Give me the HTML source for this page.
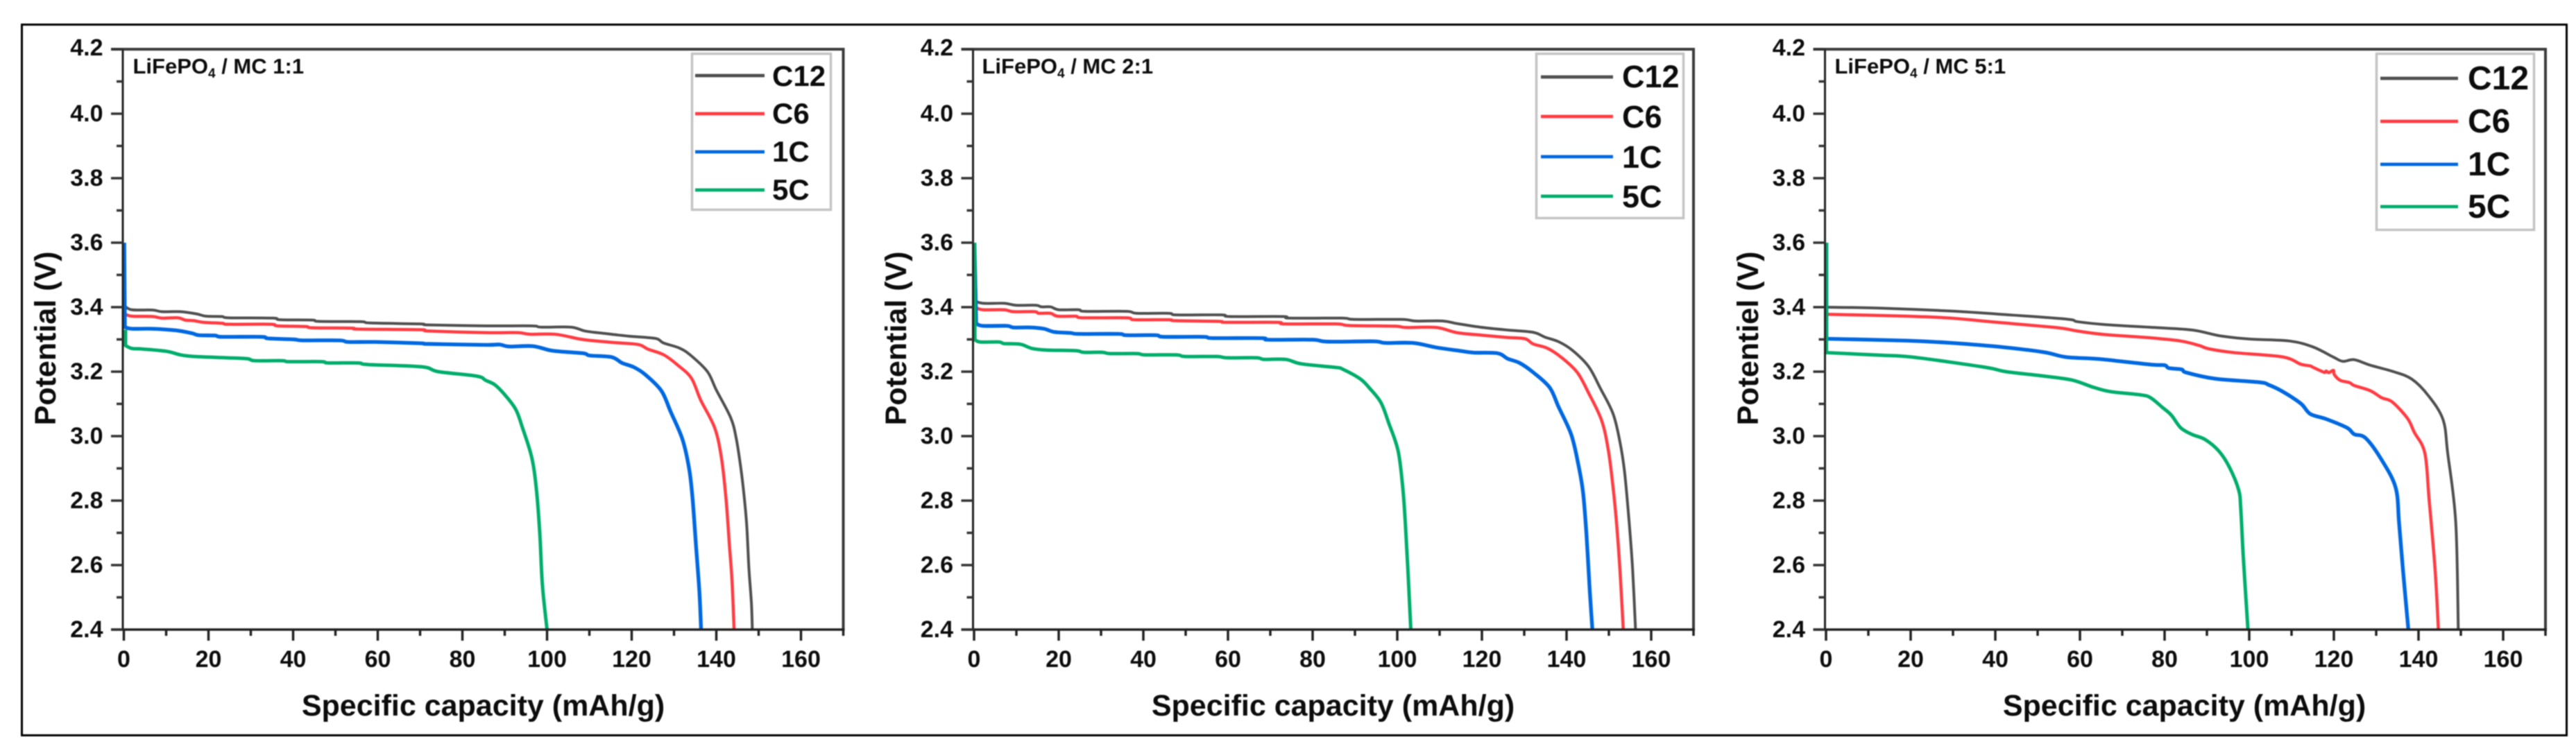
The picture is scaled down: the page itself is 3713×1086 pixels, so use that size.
<!DOCTYPE html>
<html lang="en">
<head>
<meta charset="utf-8">
<title>LiFePO4 / MC discharge curves</title>
<style>
html,body{margin:0;padding:0;background:#fff;width:3713px;height:1086px;overflow:hidden}
svg{display:block;filter:blur(0.9px)}
text{font-family:"Liberation Sans",Arial,sans-serif;font-weight:700;fill:#0c0c0c}
.legend-box{fill:#fff;stroke:#c4c4c4;stroke-width:3.5}
.tick-label{font-size:34px}
.axis-title{font-size:43px}
.note{font-size:31px}
.c12{stroke:#4f4f4f}.c6{stroke:#ff3b42}.c1{stroke:#0068e0}.c5{stroke:#00ad6b}
.leg-line{stroke-width:4.8;fill:none}
</style>
</head>
<body>
<svg id="figure" xmlns="http://www.w3.org/2000/svg" width="3713" height="1086" viewBox="0 0 3713 1086">
  <rect x="31.5" y="35.5" width="3668" height="1025" fill="#fff" stroke="#000" stroke-width="3"/>

  <g id="panel-1">
    <text class="axis-title" transform="translate(80,488) rotate(-90)" text-anchor="middle">Potential (V)</text>
    <text class="axis-title" x="696.5" y="1032" text-anchor="middle">Specific capacity (mAh/g)</text>
  </g>
  <g id="panel-2">
    <text class="axis-title" transform="translate(1306,488) rotate(-90)" text-anchor="middle">Potential (V)</text>
    <text class="axis-title" x="1921.5" y="1032" text-anchor="middle">Specific capacity (mAh/g)</text>
  </g>
  <g id="panel-3">
    <text class="axis-title" transform="translate(2534,488) rotate(-90)" text-anchor="middle">Potentiel (V)</text>
    <text class="axis-title" x="3148.5" y="1032" text-anchor="middle">Specific capacity (mAh/g)</text>
  </g>

  <g id="overlays">
    <text class="note" x="191.5" y="106">LiFePO<tspan font-size="19" dy="6">4</tspan><tspan dy="-6"> / MC 1:1</tspan></text>
    <text class="note" x="1415.5" y="106">LiFePO<tspan font-size="19" dy="6">4</tspan><tspan dy="-6"> / MC 2:1</tspan></text>
    <text class="note" x="2644.5" y="106">LiFePO<tspan font-size="19" dy="6">4</tspan><tspan dy="-6"> / MC 5:1</tspan></text>

    <g font-size="42">
      <rect class="legend-box" x="997.5" y="77.5" width="200" height="225"/>
      <line class="leg-line c12" x1="1002" x2="1102" y1="109" y2="109"/>
      <line class="leg-line c6" x1="1002" x2="1102" y1="164" y2="164"/>
      <line class="leg-line c1" x1="1002" x2="1102" y1="219" y2="219"/>
      <line class="leg-line c5" x1="1002" x2="1102" y1="274" y2="274"/>
      <text x="1113" y="124">C12</text>
      <text x="1113" y="178">C6</text>
      <text x="1113" y="233">1C</text>
      <text x="1113" y="288">5C</text>
    </g>
    <g font-size="45">
      <rect class="legend-box" x="2214.5" y="77.5" width="212" height="237"/>
      <line class="leg-line c12" x1="2221" x2="2325" y1="111" y2="111"/>
      <line class="leg-line c6" x1="2221" x2="2325" y1="168" y2="168"/>
      <line class="leg-line c1" x1="2221" x2="2325" y1="226" y2="226"/>
      <line class="leg-line c5" x1="2221" x2="2325" y1="283" y2="283"/>
      <text x="2338" y="126">C12</text>
      <text x="2338" y="184">C6</text>
      <text x="2338" y="242">1C</text>
      <text x="2338" y="299">5C</text>
    </g>
    <g font-size="48">
      <rect class="legend-box" x="3425.5" y="77.5" width="227" height="254"/>
      <line class="leg-line c12" x1="3431" x2="3543" y1="113" y2="113"/>
      <line class="leg-line c6" x1="3431" x2="3543" y1="175" y2="175"/>
      <line class="leg-line c1" x1="3431" x2="3543" y1="237" y2="237"/>
      <line class="leg-line c5" x1="3431" x2="3543" y1="298" y2="298"/>
      <text x="3557" y="129">C12</text>
      <text x="3557" y="191">C6</text>
      <text x="3557" y="253">1C</text>
      <text x="3557" y="314">5C</text>
    </g>
  </g>
</svg>

<script>
// Tick labels
const xTickLabels = ['0','20','40','60','80','100','120','140','160'];
const xMinorTicks = [10,30,50,70,90,110,130,150,170];
const yTickLabels = ['2.4','2.6','2.8','3.0','3.2','3.4','3.6','3.8','4.0','4.2'];
const yMinorTicks = [2.5,2.7,2.9,3.1,3.3,3.5,3.7,3.9,4.1];

// Panel 1 (MC 1:1)
const p1C12Cap = [0.1,0.25,1.9,6.8,9,13.4,17.2,19.4,23.2,24.8,35.2,36.9,44.5,46.1,56,58.2,70,72,85.5,96.4,98.6,105.7,109,113.9,119.4,125.6,127.5,131.3,134,137.9,140,143.4,144.7,145.8,146.6,147.2,147.7,148.3,148.5];
const p1C12Volt = [3.6,3.403,3.392,3.391,3.386,3.386,3.379,3.372,3.371,3.367,3.366,3.361,3.36,3.356,3.355,3.351,3.348,3.345,3.342,3.342,3.338,3.338,3.326,3.318,3.31,3.303,3.289,3.273,3.25,3.2,3.143,3.057,2.993,2.9,2.81,2.72,2.59,2.48,2.4];
const p1C6Cap = [0.1,0.25,1.9,6.8,9,12.8,14.5,16.6,18.8,23.2,24.8,34.7,36.3,42.9,44.5,53.8,55.4,70,72,85.5,93.1,95.9,101.9,107.4,110.1,116.1,121.6,123.8,127.6,130.9,134.1,136.3,139.6,141.2,142.3,143.1,143.7,144.2];
const p1C6Volt = [3.6,3.379,3.372,3.371,3.366,3.367,3.36,3.358,3.353,3.35,3.347,3.347,3.342,3.34,3.336,3.335,3.332,3.33,3.326,3.321,3.321,3.316,3.316,3.302,3.297,3.29,3.284,3.27,3.252,3.22,3.18,3.112,3.026,2.933,2.804,2.66,2.553,2.4];
const p1C1Cap = [0.1,0.25,1.9,6.8,12.3,16.1,17.7,21.6,23.2,32.5,34.1,40.1,42.3,51,53,59.3,70,72,85.5,88.8,91,96.7,101.3,108.5,110.1,115.3,117.7,120.5,123.2,127,129.2,132,133.6,134.4,135.2,136,136.4];
const p1C1Volt = [3.6,3.338,3.333,3.333,3.328,3.319,3.313,3.312,3.308,3.308,3.303,3.3,3.297,3.297,3.292,3.292,3.288,3.286,3.283,3.284,3.278,3.279,3.265,3.257,3.25,3.245,3.227,3.214,3.191,3.141,3.076,2.99,2.897,2.804,2.66,2.517,2.4];
const p1C5Cap = [0.4,0.4,1.9,4.6,10.1,13.4,16.6,24.3,29.2,30.9,37.4,39,46.7,48.3,55.4,57.6,70.4,74.3,83.4,85.5,87.7,89.9,92.6,94.2,96.4,97.5,98.3,98.9,100];
const p1C5Volt = [3.33,3.281,3.272,3.27,3.263,3.252,3.247,3.243,3.24,3.234,3.234,3.231,3.231,3.227,3.227,3.222,3.215,3.2,3.186,3.173,3.159,3.13,3.083,3.026,2.933,2.833,2.696,2.539,2.4];

// Panel 2 (MC 2:1)
const p2C12Cap = [0.1,0.2,2.1,7.1,9.9,14.6,15.9,18.1,20,24.7,26.2,36,38.5,46,47.9,58.5,60.4,73,74.5,86.8,89.9,101,104.3,110.8,114.1,119.6,126.1,132.1,134.9,138.1,141.4,145.2,148,151,152.6,153.7,154.8,155.6,156.3];
const p2C12Volt = [3.6,3.419,3.412,3.412,3.406,3.406,3.401,3.401,3.392,3.392,3.387,3.387,3.381,3.381,3.376,3.376,3.371,3.371,3.366,3.366,3.362,3.362,3.357,3.357,3.349,3.338,3.329,3.322,3.307,3.293,3.266,3.216,3.148,3.069,2.983,2.89,2.732,2.589,2.4];
const p2C6Cap = [0.1,0.5,2.1,7.1,9.3,14.3,15.3,18.1,19.7,24,25.6,36,37.9,46,47.6,57.9,59.5,71.7,73.3,85.5,88.7,99.3,102.1,109.2,114.1,120.1,126.1,130.2,132.1,135.4,138.7,142.5,145.2,148.3,149.9,151,151.8,152.6,153.4];
const p2C6Volt = [3.6,3.398,3.392,3.392,3.386,3.386,3.381,3.381,3.372,3.372,3.367,3.367,3.361,3.361,3.358,3.356,3.353,3.353,3.348,3.348,3.343,3.341,3.337,3.337,3.321,3.313,3.306,3.302,3.286,3.273,3.245,3.198,3.134,3.048,2.954,2.84,2.732,2.589,2.4];
const p2C1Cap = [0.1,0.5,2.1,7.7,9.3,13.4,16.5,19,22.8,24.7,34.1,36,42.9,44.8,54.2,56.4,68,69.5,79.9,83.6,94.4,97.2,103.7,109.2,114.6,118,123.7,126.1,128.9,132.1,136,138.1,141.1,142.8,143.9,144.7,145.5,146.1];
const p2C1Volt = [3.6,3.349,3.342,3.342,3.337,3.337,3.333,3.323,3.32,3.317,3.317,3.313,3.313,3.308,3.308,3.304,3.304,3.299,3.299,3.293,3.294,3.289,3.289,3.275,3.265,3.259,3.257,3.24,3.227,3.198,3.151,3.091,3.005,2.911,2.825,2.696,2.517,2.4];
const p2C5Cap = [0.1,0.2,1.5,5.9,7.1,10.9,13.7,17.1,24,25.9,30.3,32.2,38.5,40.4,47.9,49.8,57.3,59.8,66.7,68.6,73.6,77.4,85.5,87.2,91.2,93.3,96.1,98,100.2,101.3,101.9,102.5,103.2];
const p2C5Volt = [3.6,3.299,3.292,3.292,3.287,3.285,3.272,3.267,3.265,3.26,3.26,3.256,3.256,3.252,3.252,3.247,3.247,3.243,3.243,3.238,3.238,3.224,3.213,3.207,3.178,3.151,3.105,3.04,2.954,2.84,2.732,2.589,2.4];

// Panel 3 (MC 5:1)
const p3C12Cap = [0.1,0.1,12.7,29.6,41.2,56.8,59.4,65.9,77.5,86.6,93.1,100.2,109.5,115,119.9,122.1,124.8,128.6,134.1,138.4,142.3,145.8,146.9,148.8,149.4];
const p3C12Volt = [3.6,3.4,3.397,3.388,3.378,3.363,3.355,3.346,3.337,3.329,3.311,3.301,3.295,3.277,3.245,3.232,3.237,3.22,3.2,3.177,3.126,3.051,2.947,2.732,2.4];
const p3C6Cap = [0.1,0.1,19.2,29.6,38.7,54.2,59.4,65.9,76.5,83.8,88.2,90.4,96.4,107.8,112.2,114.4,115,117.7,118.2,118.8,119.9,120.1,121.5,123.7,124.8,128.6,131.3,133.8,137.4,139,141.5,142.5,143.9,144.7];
const p3C6Volt = [3.6,3.378,3.372,3.366,3.355,3.337,3.326,3.315,3.305,3.295,3.281,3.271,3.259,3.246,3.223,3.218,3.214,3.198,3.202,3.197,3.204,3.191,3.173,3.166,3.157,3.141,3.119,3.106,3.055,3.012,2.947,2.804,2.589,2.4];
const p3C1Cap = [0.1,0.1,19.2,29.6,42.5,51.6,56.8,64.6,76.7,80,81,84,85.2,92,102.4,104.6,107.8,112.2,114.4,118.2,123.1,124.8,127.5,131.3,134.6,135.4,136.3,137.6];
const p3C1Volt = [3.6,3.302,3.296,3.289,3.275,3.26,3.245,3.239,3.222,3.22,3.211,3.207,3.197,3.178,3.167,3.159,3.139,3.101,3.069,3.053,3.026,3.006,2.994,2.926,2.84,2.732,2.589,2.4];
const p3C5Cap = [0.1,0.1,12.7,20.5,37.4,42.5,51.6,58.1,63.3,67.2,74.3,76.7,79.4,81.6,83.8,86.5,89.5,92.8,95.3,97.5,98,98.6,99.7];
const p3C5Volt = [3.6,3.259,3.251,3.245,3.214,3.2,3.186,3.174,3.151,3.138,3.128,3.119,3.09,3.065,3.026,3.005,2.99,2.954,2.904,2.833,2.775,2.625,2.4];

const SVG_NS = 'http://www.w3.org/2000/svg';
const PX_PER_CAP = 6.1;
const PX_PER_VOLT = 465;
const Y_BOTTOM = 908;
const V_MIN = 2.4;
const V_MAX = 4.2;
const CAP_MAX = 170;

function make(tag, attrs, parent) {
  const el = document.createElementNS(SVG_NS, tag);
  for (const k in attrs) el.setAttribute(k, attrs[k]);
  parent.appendChild(el);
  return el;
}

// Straight initial spike, then a Catmull-Rom spline through the read points.
function curvePath(pts) {
  let d = 'M' + pts[0][0].toFixed(2) + ' ' + pts[0][1].toFixed(2) + 'L' + pts[1][0].toFixed(2) + ' ' + pts[1][1].toFixed(2);
  for (let i = 1; i < pts.length - 1; i++) {
    const p0 = i > 1 ? pts[i - 1] : pts[i];
    const p1 = pts[i];
    const p2 = pts[i + 1];
    const p3 = pts[i + 2] || p2;
    const c1x = p1[0] + (p2[0] - p0[0]) / 6;
    const c1y = p1[1] + (p2[1] - p0[1]) / 6;
    const c2x = p2[0] - (p3[0] - p1[0]) / 6;
    const c2y = p2[1] - (p3[1] - p1[1]) / 6;
    d += 'C' + c1x.toFixed(2) + ' ' + c1y.toFixed(2) + ' ' + c2x.toFixed(2) + ' ' + c2y.toFixed(2) + ' ' + p2[0].toFixed(2) + ' ' + p2[1].toFixed(2);
  }
  return d;
}

function drawPanel(groupId, x0, seriesList) {
  const g = document.getElementById(groupId);
  const xOf = c => x0 + c * PX_PER_CAP;
  const yOf = v => Y_BOTTOM - (v - V_MIN) * PX_PER_VOLT;
  const left = x0 - 1.5;
  const right = xOf(CAP_MAX);
  const top = yOf(V_MAX);

  seriesList.forEach(s => {
    const pts = s.cap.map((c, i) => [xOf(c), yOf(s.volt[i])]);
    const path = make('path', {d: curvePath(pts), fill: 'none', stroke: s.color, 'stroke-width': s.width, 'stroke-linejoin': 'round'}, g);
    
    
  });

  const topLine = make('line', {x1: left - 17, x2: right + 2, y1: top, y2: top, stroke: '#3c3c3c', 'stroke-width': 4}, g);
  
  
  const rightLine = make('line', {x1: right, x2: right, y1: top - 2, y2: Y_BOTTOM + 2, stroke: '#3c3c3c', 'stroke-width': 4}, g);
  
  
  const yAxis = make('line', {x1: left, x2: left, y1: top, y2: Y_BOTTOM + 1, stroke: '#222', 'stroke-width': 3}, g);
  
  
  const xAxis = make('line', {x1: left - 17, x2: right + 2, y1: Y_BOTTOM, y2: Y_BOTTOM, stroke: '#222', 'stroke-width': 3.5}, g);
  
  

  yTickLabels.forEach(label => {
    const v = parseFloat(label);
    const tick = make('line', {x1: left - 17, x2: left, y1: yOf(v), y2: yOf(v), stroke: '#333', 'stroke-width': 3.5}, g);
    
    
    const t = make('text', {x: x0 - 30, y: yOf(v) + 11 + (v === V_MAX ? -2 : 0), 'text-anchor': 'end', class: 'tick-label'}, g);
    t.textContent = label;
    
    
  });
  yMinorTicks.forEach(v => {
    const tick = make('line', {x1: left - 9, x2: left, y1: yOf(v), y2: yOf(v), stroke: '#333', 'stroke-width': 3.5}, g);
    
    
  });
  xTickLabels.forEach(label => {
    const c = parseFloat(label);
    const tick = make('line', {x1: xOf(c), x2: xOf(c), y1: Y_BOTTOM, y2: Y_BOTTOM + 16, stroke: '#222', 'stroke-width': 3.5}, g);
    
    
    const t = make('text', {x: xOf(c), y: 962, 'text-anchor': 'middle', class: 'tick-label'}, g);
    t.textContent = label;
    
    
  });
  xMinorTicks.forEach(c => {
    const tick = make('line', {x1: xOf(c), x2: xOf(c), y1: Y_BOTTOM, y2: Y_BOTTOM + 9, stroke: '#222', 'stroke-width': 3.5}, g);
    
    
  });
}

const GREY = '#4f4f4f', RED = '#ff3b42', BLUE = '#0068e0', GREEN = '#00ad6b';

drawPanel('panel-1', 178.5, [
  {name: 'series-c12', cap: p1C12Cap, volt: p1C12Volt, color: GREY, width: 4},
  {name: 'series-c6', cap: p1C6Cap, volt: p1C6Volt, color: RED, width: 4.5},
  {name: 'series-1c', cap: p1C1Cap, volt: p1C1Volt, color: BLUE, width: 5.4},
  {name: 'series-5c', cap: p1C5Cap, volt: p1C5Volt, color: GREEN, width: 5}
]);
drawPanel('panel-2', 1404, [
  {name: 'series-c12', cap: p2C12Cap, volt: p2C12Volt, color: GREY, width: 4},
  {name: 'series-c6', cap: p2C6Cap, volt: p2C6Volt, color: RED, width: 4.5},
  {name: 'series-1c', cap: p2C1Cap, volt: p2C1Volt, color: BLUE, width: 5.4},
  {name: 'series-5c', cap: p2C5Cap, volt: p2C5Volt, color: GREEN, width: 5}
]);
drawPanel('panel-3', 2632, [
  {name: 'series-c12', cap: p3C12Cap, volt: p3C12Volt, color: GREY, width: 4},
  {name: 'series-c6', cap: p3C6Cap, volt: p3C6Volt, color: RED, width: 4.5},
  {name: 'series-1c', cap: p3C1Cap, volt: p3C1Volt, color: BLUE, width: 5.4},
  {name: 'series-5c', cap: p3C5Cap, volt: p3C5Volt, color: GREEN, width: 5}
]);
</script>
</body>
</html>
